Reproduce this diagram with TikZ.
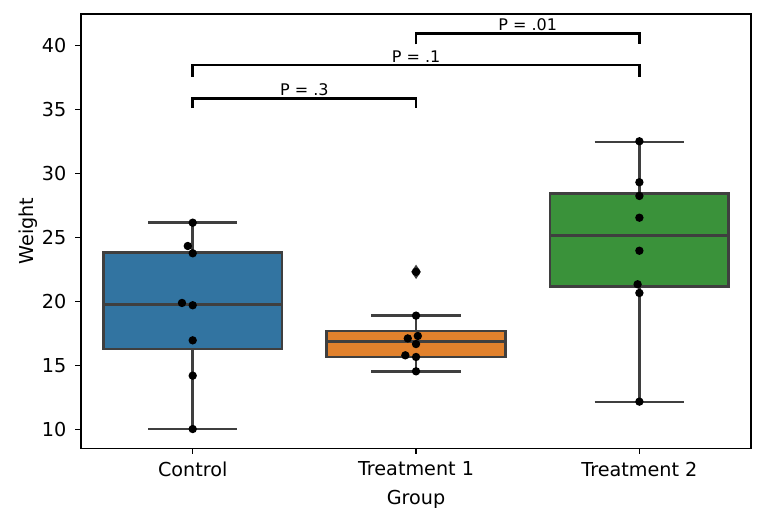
\documentclass[tikz,border=0pt]{standalone}
\usepackage{fontspec}
\setmainfont{DejaVu Sans}
\usetikzlibrary{calc}

\definecolor{boxblue}{HTML}{3274A1}
\definecolor{boxorange}{HTML}{E1812C}
\definecolor{boxgreen}{HTML}{3A923A}
\definecolor{linegray}{HTML}{3F3F3F}

\begin{document}
\begin{tikzpicture}[x=0.5pt, y=0.5pt,
  axisline/.style={line width=0.72pt, draw=black},
  boxline/.style={line width=1.35pt, draw=linegray},
  bracket/.style={line width=1.3pt, draw=black},
  ticklabel/.style={font=\fontsize{9.6}{11.5}\selectfont, inner sep=0pt},
  pval/.style={font=\fontsize{8}{9.6}\selectfont, inner sep=0pt, anchor=base}]

\useasboundingbox (0,0) rectangle (764,523);

% axis titles
\node[ticklabel, anchor=base] (xlabel) at (416,18) {Group};
\node[ticklabel, anchor=base, rotate=90] (ylabel) at (33.3,292) {Weight};

\begin{scope}[shift={(192.7,-34.3)}, x=111.67pt, y=6.4pt]

% frame and ticks
\draw[axisline] (-0.5,8.5) rectangle (2.5,42.45);
\foreach \v in {10,15,...,40}
  \draw[axisline] (-0.5,\v) -- ++(-3pt,0)
    node[ticklabel, anchor=east, xshift=-4pt] (ytick\v) {\v};
\foreach \x/\grp in {0/Control, 1/Treatment 1, 2/Treatment 2}
  \draw[axisline] (\x,8.5) -- ++(0,-3pt)
    node[ticklabel, anchor=north, yshift=-3.3pt] (xtick\x) {\grp};

% boxes: x / whisker low / q1 / median / q3 / whisker high / colour
\foreach \x/\lo/\qa/\me/\qb/\hi/\col in {0/10.02/16.27/19.73/23.83/26.14/boxblue,
    1/14.50/15.65/16.88/17.68/18.87/boxorange,
    2/12.14/21.14/25.16/28.44/32.45/boxgreen}
{
  \draw[boxline] (\x,\lo) -- (\x,\qa) (\x,\qb) -- (\x,\hi)
    (\x-0.2,\lo) -- (\x+0.2,\lo) (\x-0.2,\hi) -- (\x+0.2,\hi);
  \draw[boxline, fill=\col] (\x-0.4,\qa) rectangle (\x+0.4,\qb);
  \draw[boxline] (\x-0.4,\me) -- (\x+0.4,\me);
}

% outlier of Treatment 1
\fill[linegray] (1,22.3) +(0,3.6pt) -- +(2.4pt,0) -- +(0,-3.6pt) -- +(-2.4pt,0) -- cycle;

% swarm points
\foreach \px/\py in {0/26.14, -0.022/24.32, 0/23.75, -0.048/19.87, 0/19.69,
    0/16.95, 0/14.19, 0/10.02,
    1/22.3, 1/18.88, 1.008/17.29, 0.963/17.1, 1/16.66, 0.952/15.78, 1/15.65, 1/14.53,
    2/32.5, 2/29.3, 2/28.23, 2/26.53, 2/23.95, 1.992/21.33, 2/20.65, 2/12.16}
  \fill (\px,\py) circle[radius=2.1pt];

% significance brackets
\coordinate (b1a) at (1,40.08);
\coordinate (b1b) at (2,40.08);
\coordinate (b2a) at (0,37.55);
\coordinate (b2b) at (2,37.55);
\coordinate (b3a) at (0,35.1);
\coordinate (b3b) at (1,35.1);

\draw[bracket] (b1a) -- ++(0,0.86) -| (b1b);
\draw[bracket] (b2a) -- ++(0,0.91) -| (b2b);
\draw[bracket] (b3a) -- ++(0,0.76) -| (b3b);

\node[pval] (p01) at ($(b1a)!0.5!(b1b)+(0,0.86)$) [yshift=1.3pt] {P = .01};
\node[pval] (p1) at ($(b2a)!0.5!(b2b)+(0,0.91)$) [yshift=1.3pt] {P = .1};
\node[pval] (p3) at ($(b3a)!0.5!(b3b)+(0,0.76)$) [yshift=1.3pt] {P = .3};

\end{scope}
\end{tikzpicture}
\end{document}
